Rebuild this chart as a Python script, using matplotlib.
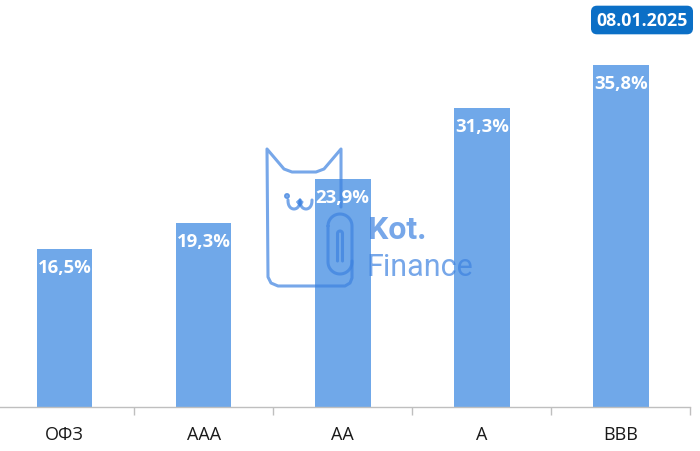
import numpy as np
import matplotlib.pyplot as plt
import matplotlib.transforms as mtransforms
from matplotlib.patches import Circle

# data
categories = ['ОФЗ', 'AAA', 'AA', 'A', 'BBB']
values = [16.5, 19.3, 23.9, 31.3, 35.8]
date_label = '08.01.2025'

bar_color = '#70A8E9'
wm_color = (0.24, 0.51, 0.88)

fig = plt.figure(figsize=(7, 4.52), dpi=100)
W, H = 700, 452
ax = fig.add_axes([-5 / W, 44 / H, 695.5 / W, 382 / H])

x = np.arange(len(categories))
ax.bar(x, values, width=0.4, color=bar_color, zorder=1)

ax.set_xlim(-0.5, len(categories) - 0.5)
ax.set_ylim(0, 40)

# labels inside the bars
for xi, v in zip(x, values):
    ax.annotate(f'{v:.1f}%'.replace('.', ','), (xi, v), xytext=(0, -18),
                textcoords='offset pixels', ha='center', va='center',
                color='white', fontsize=13.3, fontweight='bold',
                family='Open Sans', zorder=4)

# axes styling
for s in ['top', 'right', 'left']:
    ax.spines[s].set_visible(False)
ax.spines['bottom'].set_color('#bfbfbf')
ax.spines['bottom'].set_linewidth(1)
ax.set_yticks([])
ax.set_xticks(x)
ax.set_xticklabels(categories, family='Open Sans', fontsize=13, color='#1a1a1a')
ax.tick_params(axis='x', which='major', length=0, pad=13)
ax.set_xticks(np.arange(-0.5, len(categories)), minor=True)
ax.tick_params(axis='x', which='minor', length=5.5, color='#bfbfbf', width=1)

# date badge
fig.text(642 / W, 1 - 21 / H, date_label, ha='center', va='center',
         color='white', fontsize=12.8, fontweight='bold', family='Open Sans',
         bbox=dict(boxstyle='round,pad=0.26,rounding_size=0.3',
                   fc='#0B6FC6', ec='#0B6FC6'))

# watermark (pixel coords, origin top-left)
T = mtransforms.Affine2D().scale(1 / W, -1 / H).translate(0, 1) + fig.transFigure
wm = dict(color=wm_color, alpha=0.7, lw=2.2, transform=T, clip_on=False,
          zorder=2, solid_capstyle='round', solid_joinstyle='round')

# cat outline: left ear -> top -> right ear -> down to clip
ax.plot([341, 341, 324, 316, 292, 284, 267, 268, 271, 278, 345, 350, 352, 352],
        [208, 150, 170, 173, 173, 170, 150, 278, 284, 287, 287, 284, 279, 262],
        **wm)

# face
t = np.linspace(0, np.pi, 20)
ax.plot(294 - 6 * np.cos(t), 201 + 9 * np.sin(t) ** 0.8, **wm)
ax.plot(306 - 6 * np.cos(t), 201 + 9 * np.sin(t) ** 0.8, **wm)
ax.add_patch(Circle((287, 197), 2.3, color=wm_color, alpha=0.7,
                    transform=T, zorder=2))
ax.plot([298, 302, 300, 298], [203, 203, 206, 203], **wm)

# paperclip: outer stadium and inner hairpin
a = np.linspace(0, np.pi, 25)
ox = np.concatenate([340 - 12 * np.cos(a), 340 + 12 * np.cos(a), [328]])
oy = np.concatenate([227 - 12 * np.sin(a), 263 + 12 * np.sin(a), [227]])
ax.plot(ox, oy, **wm)
ix = np.concatenate([[337.5], 340 - 2.5 * np.cos(a), [342.5]])
iy = np.concatenate([[262], 234.5 - 2.5 * np.sin(a), [262]])
ax.plot(ix, iy, **wm)

fig.text(368 / W, 1 - 230 / H, 'Kot.', ha='left', va='center', fontsize=23,
         fontweight='bold', family='Roboto', color=wm_color, alpha=0.7, zorder=2)
fig.text(367 / W, 1 - 268 / H, 'Finance', ha='left', va='center', fontsize=22,
         family='Roboto', color=wm_color, alpha=0.7, zorder=2)

fig.savefig('out.png', dpi=100)
